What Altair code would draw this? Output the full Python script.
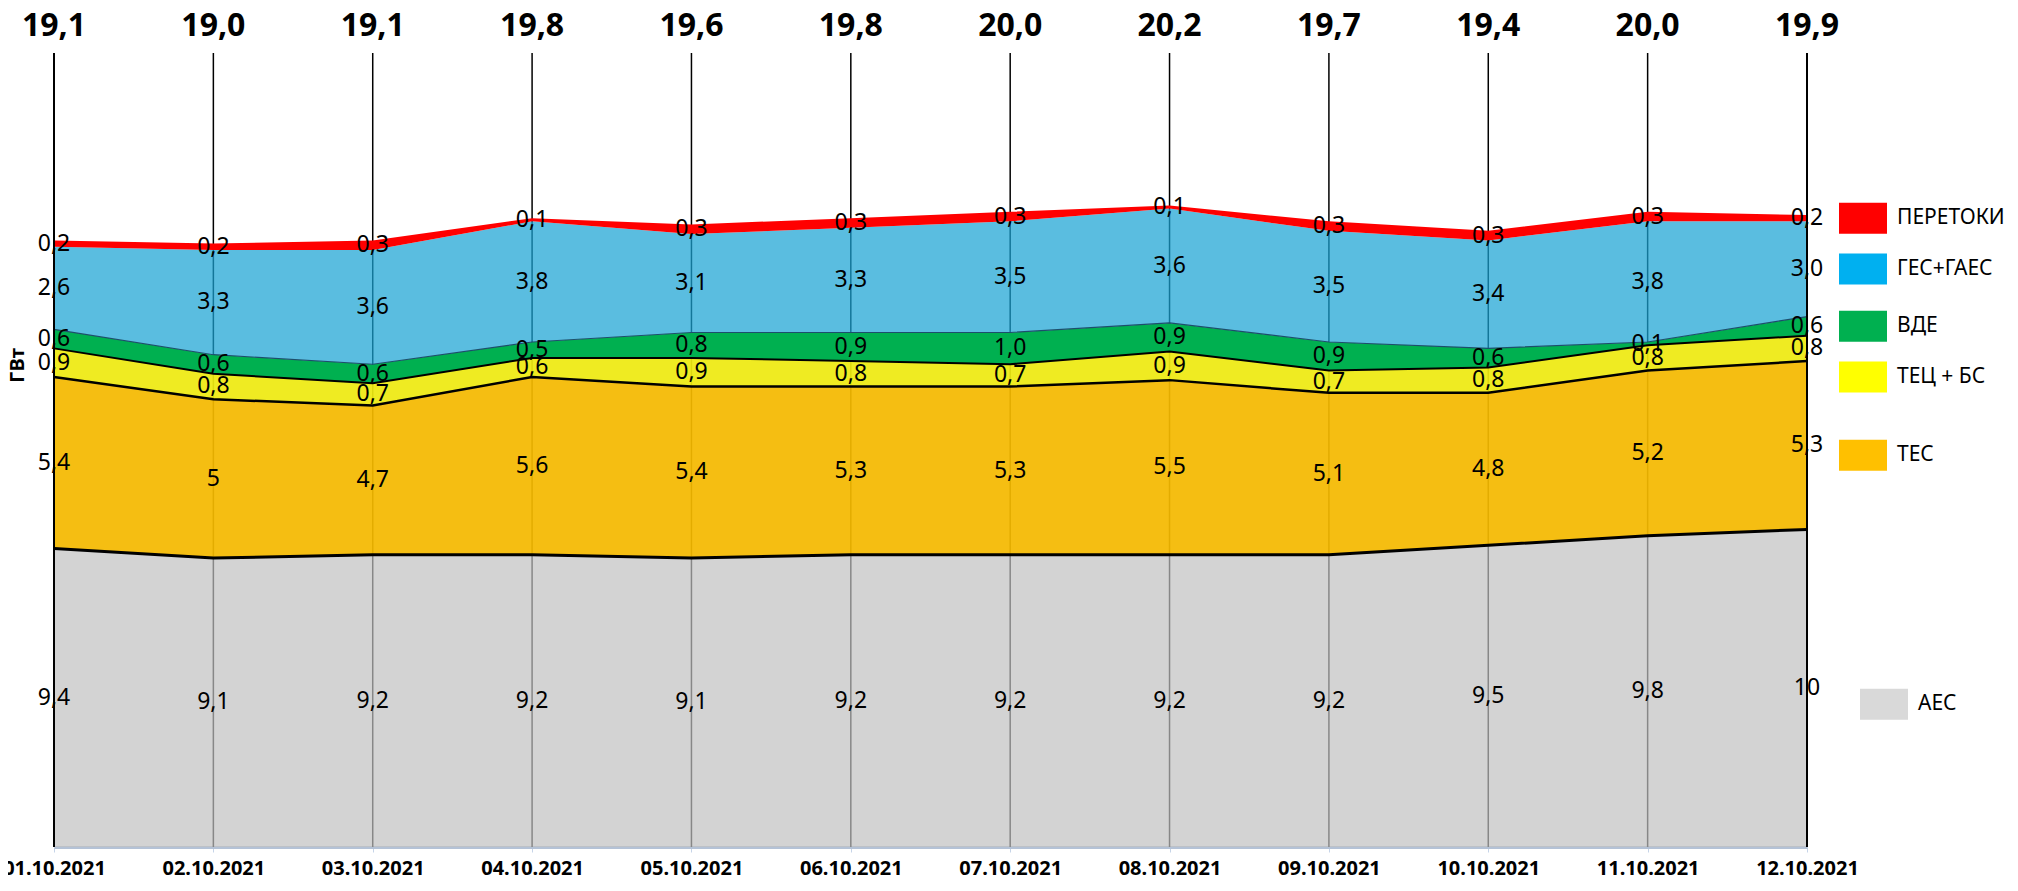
import altair as alt
import pandas as pd

dates = ["01.10.2021", "02.10.2021", "03.10.2021", "04.10.2021", "05.10.2021", "06.10.2021",
         "07.10.2021", "08.10.2021", "09.10.2021", "10.10.2021", "11.10.2021", "12.10.2021"]
series = ["АЕС", "ТЕС", "ТЕЦ + БС", "ВДЕ", "ГЕС+ГАЕС", "ПЕРЕТОКИ"]
aes = [9.4, 9.1, 9.2, 9.2, 9.1, 9.2, 9.2, 9.2, 9.2, 9.5, 9.8, 10]
tes = [5.4, 5, 4.7, 5.6, 5.4, 5.3, 5.3, 5.5, 5.1, 4.8, 5.2, 5.3]
tec = [0.9, 0.8, 0.7, 0.6, 0.9, 0.8, 0.7, 0.9, 0.7, 0.8, 0.8, 0.8]
vde = [0.6, 0.6, 0.6, 0.5, 0.8, 0.9, 1.0, 0.9, 0.9, 0.6, 0.1, 0.6]
ges = [2.6, 3.3, 3.6, 3.8, 3.1, 3.3, 3.5, 3.6, 3.5, 3.4, 3.8, 3.0]
per = [0.2, 0.2, 0.3, 0.1, 0.3, 0.3, 0.3, 0.1, 0.3, 0.3, 0.3, 0.2]
values = [aes, tes, tec, vde, ges, per]

area_fill = ["#c1c1c1", "#f4b900", "#eeea11", "#00b050", "#1ba3d4", "#ff0000"]
area_opacity = [0.7, 0.93, 0.93, 1.0, 0.72, 1.0]
legend_fill = ["#d9d9d9", "#ffc000", "#ffff00", "#00b050", "#00b0f0", "#ff0000"]


def fmt(v):
    return str(v).replace(".", ",")


rows = []
totals = []
for i, d in enumerate(dates):
    cum = 0.0
    for k, s in enumerate(series):
        v = values[k][i]
        rows.append(dict(date=d, series=s, lo=cum, hi=cum + v, mid=cum + v / 2,
                         label=fmt(v), fill=area_fill[k], op=area_opacity[k]))
        cum += v
    totals.append(dict(date=d, total=f"{round(cum, 1):.1f}".replace(".", ",")))
df = pd.DataFrame(rows)
df_tot = pd.DataFrame(totals)
df_dates = pd.DataFrame(dict(date=dates))

# direct legend next to the last day, placed at the layer middles (pushed apart when too close)
last = df[df.date == dates[-1]].set_index("series")
leg = []
prev = None
for s in reversed(series):
    y = last.loc[s, "mid"]
    if prev is not None:
        y = min(y, prev - 1.6)
    prev = y
    leg.append(dict(date=dates[-1], series=s, ly=y, fill=legend_fill[series.index(s)]))
df_leg = pd.DataFrame(leg)

FONT = "Noto Sans"
yscale = alt.Scale(domain=[0, 25], nice=False, zero=True)
yaxis = alt.Axis(title="ГВт", labels=False, ticks=False, domain=False, grid=False,
                 titleFont=FONT, titleFontSize=20, titleFontWeight="bold", titleColor="black",
                 titleX=-37, titleY=312, titleAngle=270, titleAlign="center", titleBaseline="middle")
xaxis = alt.Axis(title=None, labelFont=FONT, labelFontSize=20, labelFontWeight="bold",
                 labelColor="black", labelAngle=0, labelBaseline="middle", labelPadding=16,
                 tickSize=5, tickColor="#c6d4e8", domainColor="#b4c2d6", domainWidth=3,
                 grid=False, labelOverlap=False)


def X():
    return alt.X("date:O", sort=dates, scale=alt.Scale(type="point", padding=0), axis=xaxis)


def Y(field):
    return alt.Y(field, scale=yscale, axis=yaxis)


rules = alt.Chart(df_dates).mark_rule(color="black", strokeWidth=1.5).encode(x=X())

areas = alt.Chart(df).mark_area(interpolate="linear").encode(
    x=X(), y=Y("hi:Q"), y2="lo:Q",
    color=alt.Color("fill:N", scale=None),
    opacity=alt.Opacity("op:Q", scale=None),
    detail="series:N",
)

bounds = []
for s, w, c in [("АЕС", 3, "black"), ("ТЕС", 2.5, "black"), ("ТЕЦ + БС", 2, "black"), ("ВДЕ", 1.2, "#1d4e6b")]:
    bounds.append(
        alt.Chart(df).transform_filter(alt.datum.series == s)
        .mark_line(color=c, strokeWidth=w).encode(x=X(), y=Y("hi:Q"))
    )

edges = alt.Chart(df_dates).transform_filter(
    (alt.datum.date == dates[0]) | (alt.datum.date == dates[-1])
).mark_rule(color="black", strokeWidth=2).encode(x=X())

labels = alt.Chart(df).mark_text(font=FONT, fontSize=23, baseline="middle", color="black").encode(
    x=X(), y=Y("mid:Q"), text="label:N"
)

tot = alt.Chart(df_tot).mark_text(font=FONT, fontSize=32, fontWeight="bold", baseline="middle",
                                  color="black").encode(x=X(), y=alt.value(-27), text="total:N")

# legend entries: (horizontal offset of swatch, of text, vertical nudge)
leg_layout = {"АЕС": (77, 111, 16), "ТЕС": (56, 90, 10)}
leg_layers = []
for s in series:
    xo, tx, yo = leg_layout.get(s, (56, 90, 0))
    sub = df_leg[df_leg.series == s]
    leg_layers.append(
        alt.Chart(sub).mark_rect(width=48, height=31, xOffset=xo, yOffset=yo).encode(
            x=X(), y=Y("ly:Q"), color=alt.Color("fill:N", scale=None))
    )
    leg_layers.append(
        alt.Chart(sub).mark_text(font=FONT, fontSize=21, align="left", baseline="middle",
                                 dx=tx, dy=yo, color="black").encode(
            x=X(), y=Y("ly:Q"), text="series:N")
    )

chart = alt.layer(
    rules, areas, *bounds, edges, labels, tot, *leg_layers
).properties(
    width=1753, height=794,
    autosize=alt.AutoSizeParams(type="none"),
    padding={"left": 46, "top": 45, "right": 203, "bottom": 32},
    background="white",
).configure_view(strokeWidth=0)

chart.save("out.html", embed_options={"renderer": "svg", "actions": False})
